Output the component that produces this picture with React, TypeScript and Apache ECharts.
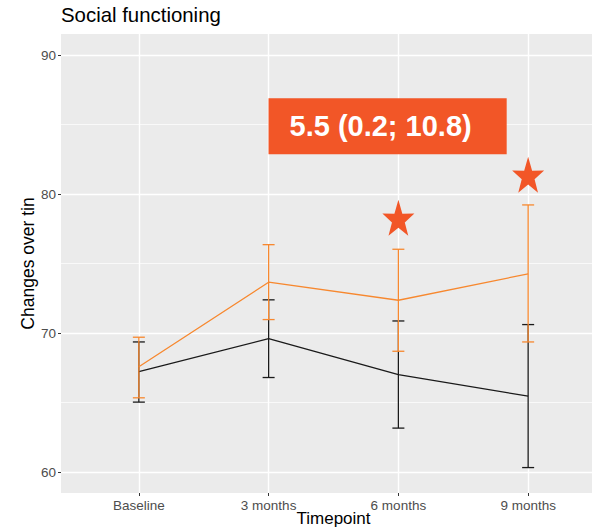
import React, { useEffect, useRef } from "react";
import * as echarts from "echarts";

const categories = ["Baseline", "3 months", "6 months", "9 months"];
const yTicks = [60, 70, 80, 90];
const yMinorTicks = [65, 75, 85];

// Control group (black)
const blackMean = [67.24, 69.61, 67.02, 65.47];
const blackLow = [65.04, 66.81, 63.17, 60.33];
const blackHigh = [69.37, 72.4, 70.88, 70.62];

// Intervention group (orange)
const orangeMean = [67.58, 73.67, 72.37, 74.27];
const orangeLow = [65.35, 70.98, 68.7, 69.37];
const orangeHigh = [69.71, 76.37, 76.04, 79.23];

// Significance stars
const starX = [3, 4];
const starY = [78.3, 81.4];

// Annotation
const annotationText = "5.5 (0.2; 10.8)";
const annotationPos = [2.917, 84.89];

const FONT = "Liberation Sans, Arial, Helvetica, sans-serif";
const ORANGE = "#F7882F";
const BLACK = "#1A1A1A";
const RED = "#F25627";
const STAR =
  "path://M50,0 L61.8,35.1 L97.6,34.5 L69.1,56.7 L79.4,90.5 L50,70 L20.6,90.5 L30.9,56.7 L2.4,34.5 L38.2,35.1 Z";

function errorSeries(low: number[], high: number[], color: string, z: number) {
  const data = low.map((l, i) => [i + 1, l, high[i]]);
  return {
    type: "custom",
    z,
    silent: true,
    data,
    renderItem: (params: any, api: any) => {
      const x = api.value(0);
      const lo = api.coord([x, api.value(1)]);
      const hi = api.coord([x, api.value(2)]);
      const hw = 6;
      const style = { stroke: color, lineWidth: 1.3, fill: "none" };
      return {
        type: "group",
        children: [
          { type: "line", shape: { x1: lo[0], y1: lo[1], x2: hi[0], y2: hi[1] }, style },
          { type: "line", shape: { x1: lo[0] - hw, y1: lo[1], x2: lo[0] + hw, y2: lo[1] }, style },
          { type: "line", shape: { x1: hi[0] - hw, y1: hi[1], x2: hi[0] + hw, y2: hi[1] }, style },
        ],
      };
    },
  };
}

export default function App() {
  const ref = useRef<HTMLDivElement>(null);
  useEffect(() => {
    if (!ref.current) return;
    const chart = echarts.init(ref.current, undefined, { renderer: "svg" });
    const option: any = {
      animation: false,
      backgroundColor: "#FFFFFF",
      title: {
        text: "Social functioning",
        left: 61,
        top: 5,
        padding: 0,
        textStyle: { fontFamily: FONT, fontSize: 20.4, fontWeight: "normal", color: "#000000" },
      },
      grid: {
        left: 61,
        right: -14,
        top: 34,
        bottom: 36,
        show: true,
        backgroundColor: "#EBEBEB",
        borderWidth: 0,
        containLabel: false,
        outerBoundsMode: "none",
      },
      xAxis: {
        type: "value",
        min: 0.4,
        max: 4.6,
        name: "Timepoint",
        nameLocation: "middle",
        nameGap: 17,
        nameMoveOverlap: false,
        nameTextStyle: { fontFamily: FONT, fontSize: 17, color: "#000000" },
        axisLine: { show: false },
        splitLine: { show: false },
        axisTick: {
          show: true,
          customValues: [1, 2, 3, 4],
          length: 3,
          lineStyle: { color: "#333333", width: 1 },
        },
        axisLabel: {
          customValues: [1, 2, 3, 4],
          formatter: (v: number) => categories[Math.round(v) - 1] ?? "",
          fontFamily: FONT,
          fontSize: 13.5,
          color: "#4D4D4D",
          margin: 5,
        },
      },
      yAxis: {
        type: "value",
        min: 58.5,
        max: 91.53,
        name: "Changes over tin",
        nameLocation: "middle",
        nameGap: 24,
        nameMoveOverlap: false,
        nameTextStyle: { fontFamily: FONT, fontSize: 17.5, color: "#000000" },
        axisLine: { show: false },
        splitLine: { show: false },
        axisTick: {
          show: true,
          customValues: yTicks,
          length: 3,
          lineStyle: { color: "#333333", width: 1 },
        },
        axisLabel: {
          customValues: yTicks,
          fontFamily: FONT,
          fontSize: 13.5,
          color: "#4D4D4D",
          margin: 5,
        },
      },
      series: [
        {
          type: "line",
          data: [],
          z: 1,
          silent: true,
          markLine: {
            silent: true,
            symbol: "none",
            label: { show: false },
            animation: false,
            data: [
              ...yMinorTicks.map((v) => ({ yAxis: v, lineStyle: { color: "#FFFFFF", width: 0.7, type: "solid" } })),
              ...yTicks.map((v) => ({ yAxis: v, lineStyle: { color: "#FFFFFF", width: 1.4, type: "solid" } })),
              ...categories.map((_, i) => ({ xAxis: i + 1, lineStyle: { color: "#FFFFFF", width: 1.4, type: "solid" } })),
            ],
          },
        },
        errorSeries(blackLow, blackHigh, BLACK, 10),
        {
          type: "line",
          z: 11,
          silent: true,
          symbol: "none",
          data: blackMean.map((v, i) => [i + 1, v]),
          lineStyle: { color: BLACK, width: 1.3 },
        },
        errorSeries(orangeLow, orangeHigh, ORANGE, 12),
        {
          type: "line",
          z: 13,
          silent: true,
          symbol: "none",
          data: orangeMean.map((v, i) => [i + 1, v]),
          lineStyle: { color: ORANGE, width: 1.3 },
        },
        {
          type: "scatter",
          z: 14,
          silent: true,
          symbol: STAR,
          symbolSize: [32, 36],
          itemStyle: { color: RED, opacity: 1 },
          data: starX.map((x, i) => [x, starY[i]]),
        },
        {
          type: "scatter",
          z: 15,
          silent: true,
          symbolSize: 0,
          itemStyle: { opacity: 1 },
          data: [annotationPos],
          label: {
            show: true,
            position: "inside",
            formatter: annotationText,
            fontFamily: FONT,
            fontSize: 29,
            fontWeight: "bold",
            color: "#FFFFFF",
            opacity: 1,
            backgroundColor: RED,
            lineHeight: 30,
            padding: [13, 35, 13, 21],
          },
        },
      ],
    };
    chart.setOption(option);
    return () => chart.dispose();
  }, []);
  return (
    <div
      ref={ref}
      style={{ position: "fixed", left: 0, top: 0, width: 592, height: 529 }}
    />
  );
}
